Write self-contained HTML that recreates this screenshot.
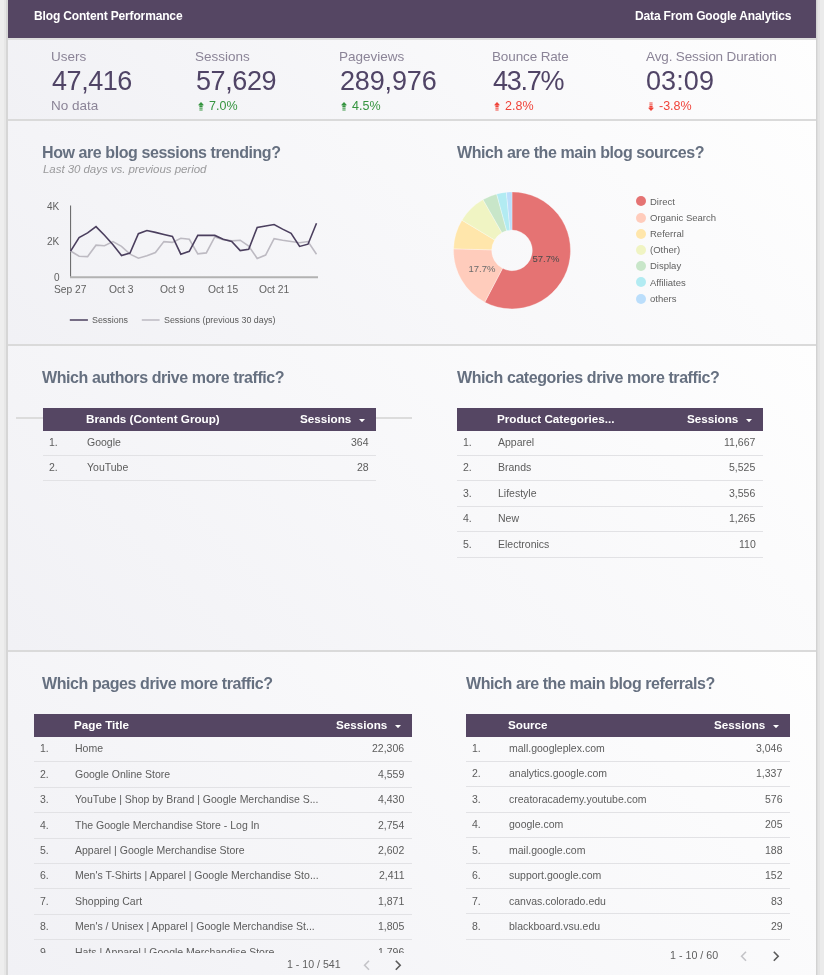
<!DOCTYPE html><html><head><meta charset="utf-8"><style>
html,body{margin:0;padding:0;}
body{width:824px;height:975px;overflow:hidden;background:#eeeeee;position:relative;font-family:"Liberation Sans",sans-serif;}
.t{position:absolute;line-height:1;white-space:nowrap;will-change:transform;}
.r{position:absolute;}
svg{position:absolute;}
</style></head><body>
<div class="r" style="left:4px;top:0px;width:2px;height:975px;background:#e7e7e7;"></div>
<div class="r" style="left:6px;top:0px;width:2px;height:975px;background:#d6d6d6;"></div>
<div class="r" style="left:818px;top:0px;width:6px;height:975px;background:#ebebeb;"></div>
<div class="r" style="left:816px;top:0px;width:1px;height:975px;background:#d2d2d2;"></div>
<div class="r" style="left:817px;top:0px;width:1px;height:975px;background:#dddddd;"></div>
<div class="r" style="left:818px;top:0px;width:2px;height:975px;background:#e5e5e5;"></div>
<div class="r" style="left:8px;top:38px;width:808px;height:2px;background:#dedede;"></div>
<div class="r" style="left:8px;top:40px;width:808px;height:79px;background:linear-gradient(45deg,#f1f1f5 0%,#fefefe 100%);"></div>
<div class="r" style="left:8px;top:119px;width:808px;height:2px;background:#dadada;"></div>
<div class="r" style="left:8px;top:121px;width:808px;height:223px;background:linear-gradient(45deg,#f1f1f5 0%,#fefefe 100%);"></div>
<div class="r" style="left:8px;top:344px;width:808px;height:2px;background:#dadada;"></div>
<div class="r" style="left:8px;top:346px;width:808px;height:304px;background:linear-gradient(45deg,#f1f1f5 0%,#fefefe 100%);"></div>
<div class="r" style="left:8px;top:650px;width:808px;height:2px;background:#dadada;"></div>
<div class="r" style="left:8px;top:652px;width:808px;height:323px;background:linear-gradient(45deg,#f1f1f5 0%,#fefefe 100%);"></div>
<div class="r" style="left:8px;top:0px;width:808px;height:38px;background:#554663;"></div>
<div class="t" style="top:9.74px;font-size:12px;color:#ffffff;font-weight:700;letter-spacing:-0.15px;left:33.50px;">Blog Content Performance</div>
<div class="t" style="top:9.74px;font-size:12px;color:#ffffff;font-weight:700;letter-spacing:-0.15px;right:33.00px;">Data From Google Analytics</div>
<div class="t" style="top:49.87px;font-size:13.5px;color:#8b8497;left:51.00px;">Users</div>
<div class="t" style="top:68.04px;font-size:27px;color:#504466;letter-spacing:-0.45px;left:51.60px;">47,416</div>
<div class="t" style="top:98.77px;font-size:13.5px;color:#8b8497;left:51.00px;">No data</div>
<div class="t" style="top:49.87px;font-size:13.5px;color:#8b8497;left:195.40px;">Sessions</div>
<div class="t" style="top:68.04px;font-size:27px;color:#504466;letter-spacing:-0.4px;left:196.00px;">57,629</div>
<svg style="left:197.5px;top:102.2px" width="6" height="9" viewBox="0 0 6 9"><path d="M3 0 L6 3.3 L0 3.3 Z" fill="#35943f"/><rect x="1.4" y="3.3" width="3.2" height="1.7" fill="#35943f"/><rect x="1.4" y="5.5" width="3.2" height="1.3" fill="#35943f" opacity="0.85"/><rect x="1.4" y="7.3" width="3.2" height="1.4" fill="#35943f" opacity="0.7"/></svg>
<div class="t" style="top:99.82px;font-size:12.5px;color:#35943f;left:208.50px;">7.0%</div>
<div class="t" style="top:49.87px;font-size:13.5px;color:#8b8497;left:339.10px;">Pageviews</div>
<div class="t" style="top:68.04px;font-size:27px;color:#504466;letter-spacing:-0.15px;left:339.70px;">289,976</div>
<svg style="left:341.2px;top:102.2px" width="6" height="9" viewBox="0 0 6 9"><path d="M3 0 L6 3.3 L0 3.3 Z" fill="#35943f"/><rect x="1.4" y="3.3" width="3.2" height="1.7" fill="#35943f"/><rect x="1.4" y="5.5" width="3.2" height="1.3" fill="#35943f" opacity="0.85"/><rect x="1.4" y="7.3" width="3.2" height="1.4" fill="#35943f" opacity="0.7"/></svg>
<div class="t" style="top:99.82px;font-size:12.5px;color:#35943f;left:352.20px;">4.5%</div>
<div class="t" style="top:49.87px;font-size:13.5px;color:#8b8497;letter-spacing:-0.13px;left:492.20px;">Bounce Rate</div>
<div class="t" style="top:68.04px;font-size:27px;color:#504466;letter-spacing:-1.25px;left:492.80px;">43.7%</div>
<svg style="left:494.3px;top:102.2px" width="6" height="9" viewBox="0 0 6 9"><path d="M3 0 L6 3.3 L0 3.3 Z" fill="#f0443a"/><rect x="1.4" y="3.3" width="3.2" height="1.7" fill="#f0443a"/><rect x="1.4" y="5.5" width="3.2" height="1.3" fill="#f0443a" opacity="0.85"/><rect x="1.4" y="7.3" width="3.2" height="1.4" fill="#f0443a" opacity="0.7"/></svg>
<div class="t" style="top:99.82px;font-size:12.5px;color:#f0443a;left:505.30px;">2.8%</div>
<div class="t" style="top:49.87px;font-size:13.5px;color:#8b8497;letter-spacing:-0.13px;left:645.60px;">Avg. Session Duration</div>
<div class="t" style="top:68.04px;font-size:27px;color:#504466;letter-spacing:0.1px;left:646.20px;">03:09</div>
<svg style="left:647.7px;top:101.6px" width="6" height="9" viewBox="0 0 6 9"><rect x="1.4" y="0.3" width="3.2" height="1.4" fill="#f0443a" opacity="0.7"/><rect x="1.4" y="2.2" width="3.2" height="1.3" fill="#f0443a" opacity="0.85"/><rect x="1.4" y="4" width="3.2" height="1.7" fill="#f0443a"/><path d="M3 9 L6 5.7 L0 5.7 Z" fill="#f0443a"/></svg>
<div class="t" style="top:99.82px;font-size:12.5px;color:#f0443a;left:658.70px;">-3.8%</div>
<div class="t" style="top:145.16px;font-size:16px;color:#667080;font-weight:700;letter-spacing:-0.42px;left:42.20px;">How are blog sessions trending?</div>
<div class="t" style="top:163.87px;font-size:11.5px;color:#9a9a9c;font-style:italic;letter-spacing:-0.05px;left:42.60px;">Last 30 days vs. previous period</div>
<div class="t" style="top:145.16px;font-size:16px;color:#667080;font-weight:700;letter-spacing:-0.42px;left:456.50px;">Which are the main blog sources?</div>
<svg style="left:0;top:0" width="824" height="975" viewBox="0 0 824 975">
<line x1="70.6" y1="205.5" x2="70.6" y2="277" stroke="#606060" stroke-width="1"/>
<line x1="70" y1="277.3" x2="318" y2="277.3" stroke="#b2b2b2" stroke-width="2"/>
<polyline points="70.6,251.0 79.1,256.3 87.6,256.6 96.0,245.2 104.5,245.8 113.0,241.6 121.5,246.3 130.0,254.2 138.4,258.2 146.9,255.8 155.4,252.6 163.9,241.6 172.4,242.4 180.8,238.2 189.3,239.3 197.8,253.8 206.3,252.9 214.8,236.9 223.2,239.6 231.7,240.9 240.2,240.2 248.7,246.0 257.2,258.4 265.6,255.1 274.1,238.7 282.6,240.2 291.1,241.5 299.6,242.7 308.0,241.5 316.5,254.2" fill="none" stroke="#bdbac2" stroke-width="1.6" stroke-linejoin="miter"/>
<polyline points="70.6,251.2 79.1,237.6 87.6,232.9 96.0,226.6 104.5,235.3 113.0,244.7 121.5,255.5 130.0,253.1 138.4,233.7 146.9,230.5 155.4,232.4 163.9,234.5 172.4,236.5 180.8,254.2 189.3,251.3 197.8,235.4 206.3,235.4 214.8,235.4 223.2,239.3 231.7,241.5 240.2,250.6 248.7,249.3 257.2,227.4 265.6,226.0 274.1,224.5 282.6,229.1 291.1,233.3 299.6,246.4 308.0,244.2 316.5,223.2" fill="none" stroke="#4b3f5e" stroke-width="1.6" stroke-linejoin="miter"/>
<line x1="69.8" y1="320" x2="87.9" y2="320" stroke="#4b3f5e" stroke-width="1.5"/>
<line x1="141.8" y1="320" x2="159.6" y2="320" stroke="#bdbac2" stroke-width="1.5"/>
</svg>
<div class="t" style="top:201.84px;font-size:10px;color:#616161;right:764.70px;">4K</div>
<div class="t" style="top:236.84px;font-size:10px;color:#616161;right:764.70px;">2K</div>
<div class="t" style="top:272.64px;font-size:10px;color:#616161;right:764.50px;">0</div>
<div class="t" style="top:285.22px;font-size:10.25px;color:#616161;left:54.40px;">Sep 27</div>
<div class="t" style="top:285.22px;font-size:10.25px;color:#616161;left:109.30px;">Oct 3</div>
<div class="t" style="top:285.22px;font-size:10.25px;color:#616161;left:160.00px;">Oct 9</div>
<div class="t" style="top:285.22px;font-size:10.25px;color:#616161;left:208.00px;">Oct 15</div>
<div class="t" style="top:285.22px;font-size:10.25px;color:#616161;left:259.00px;">Oct 21</div>
<div class="t" style="top:315.77px;font-size:8.9px;color:#5a5a5a;left:91.50px;">Sessions</div>
<div class="t" style="top:315.77px;font-size:8.9px;color:#5a5a5a;left:163.80px;">Sessions (previous 30 days)</div>
<svg style="left:0;top:0" width="824" height="975" viewBox="0 0 824 975"><path d="M512.00 191.90 A58.5 58.5 0 1 1 484.81 302.20 L502.56 268.37 A20.3 20.3 0 1 0 512.00 230.10 Z" fill="#e57373" stroke="#ffffff" stroke-width="0.3"/><path d="M484.81 302.20 A58.5 58.5 0 0 1 453.52 248.87 L491.71 249.87 A20.3 20.3 0 0 0 502.56 268.37 Z" fill="#ffccbc" stroke="#ffffff" stroke-width="0.3"/><path d="M453.52 248.87 A58.5 58.5 0 0 1 461.91 220.18 L494.62 239.91 A20.3 20.3 0 0 0 491.71 249.87 Z" fill="#ffe6ab" stroke="#ffffff" stroke-width="0.3"/><path d="M461.91 220.18 A58.5 58.5 0 0 1 483.02 199.59 L501.94 232.77 A20.3 20.3 0 0 0 494.62 239.91 Z" fill="#f0f4c3" stroke="#ffffff" stroke-width="0.3"/><path d="M483.02 199.59 A58.5 58.5 0 0 1 496.66 193.95 L506.68 230.81 A20.3 20.3 0 0 0 501.94 232.77 Z" fill="#c8e6c9" stroke="#ffffff" stroke-width="0.3"/><path d="M496.66 193.95 A58.5 58.5 0 0 1 506.39 192.17 L510.05 230.19 A20.3 20.3 0 0 0 506.68 230.81 Z" fill="#b2ebf2" stroke="#ffffff" stroke-width="0.3"/><path d="M506.39 192.17 A58.5 58.5 0 0 1 512.00 191.90 L512.00 230.10 A20.3 20.3 0 0 0 510.05 230.19 Z" fill="#bbdefb" stroke="#ffffff" stroke-width="0.3"/></svg>
<div class="t" style="top:253.66px;font-size:9.5px;color:#4a4a4a;left:546.20px;transform:translateX(-50%);">57.7%</div>
<div class="t" style="top:263.96px;font-size:9.5px;color:#6b6b6b;left:482.40px;transform:translateX(-50%);">17.7%</div>
<div class="r" style="left:636px;top:196.3px;width:10px;height:10px;border-radius:50%;background:#e57373"></div>
<div class="t" style="top:196.56px;font-size:9.5px;color:#616161;left:649.60px;">Direct</div>
<div class="r" style="left:636px;top:212.5px;width:10px;height:10px;border-radius:50%;background:#ffccbc"></div>
<div class="t" style="top:212.76px;font-size:9.5px;color:#616161;left:649.60px;">Organic Search</div>
<div class="r" style="left:636px;top:228.7px;width:10px;height:10px;border-radius:50%;background:#ffe6ab"></div>
<div class="t" style="top:228.96px;font-size:9.5px;color:#616161;left:649.60px;">Referral</div>
<div class="r" style="left:636px;top:244.9px;width:10px;height:10px;border-radius:50%;background:#f0f4c3"></div>
<div class="t" style="top:245.16px;font-size:9.5px;color:#616161;left:649.60px;">(Other)</div>
<div class="r" style="left:636px;top:261.1px;width:10px;height:10px;border-radius:50%;background:#c8e6c9"></div>
<div class="t" style="top:261.36px;font-size:9.5px;color:#616161;left:649.60px;">Display</div>
<div class="r" style="left:636px;top:277.3px;width:10px;height:10px;border-radius:50%;background:#b2ebf2"></div>
<div class="t" style="top:277.56px;font-size:9.5px;color:#616161;left:649.60px;">Affiliates</div>
<div class="r" style="left:636px;top:293.5px;width:10px;height:10px;border-radius:50%;background:#bbdefb"></div>
<div class="t" style="top:293.76px;font-size:9.5px;color:#616161;left:649.60px;">others</div>
<div class="t" style="top:370.16px;font-size:16px;color:#667080;font-weight:700;letter-spacing:-0.42px;left:42.20px;">Which authors drive more traffic?</div>
<div class="t" style="top:370.16px;font-size:16px;color:#667080;font-weight:700;letter-spacing:-0.42px;left:456.50px;">Which categories drive more traffic?</div>
<div class="r" style="left:16px;top:417px;width:396px;height:2px;background:#dcdcdc;"></div>
<div class="r" style="left:43.3px;top:408px;width:332.6px;height:22.9px;background:#554663;"></div>
<div class="t" style="top:412.90px;font-size:11.7px;color:#ffffff;font-weight:700;left:86.30px;">Brands (Content Group)</div>
<div class="t" style="top:412.90px;font-size:11.7px;color:#ffffff;font-weight:700;right:472.70px;">Sessions</div>
<svg style="left:358.9px;top:418.8px" width="6" height="3.5" viewBox="0 0 6 3.5"><path d="M0 0 L6 0 L3 3.2 Z" fill="#ffffff"/></svg>
<div class="t" style="top:436.91px;font-size:10.5px;color:#5c5c5c;left:49.20px;">1.</div>
<div class="t" style="top:436.91px;font-size:10.5px;color:#5c5c5c;left:87.10px;">Google</div>
<div class="t" style="top:436.91px;font-size:10.5px;color:#5c5c5c;right:455.80px;">364</div>
<div class="r" style="left:43.3px;top:455px;width:332.6px;height:1px;background:#e2e2e5;"></div>
<div class="t" style="top:462.36px;font-size:10.5px;color:#5c5c5c;left:49.20px;">2.</div>
<div class="t" style="top:462.36px;font-size:10.5px;color:#5c5c5c;left:87.10px;">YouTube</div>
<div class="t" style="top:462.36px;font-size:10.5px;color:#5c5c5c;right:455.80px;">28</div>
<div class="r" style="left:43.3px;top:480px;width:332.6px;height:1px;background:#e2e2e5;"></div>
<div class="r" style="left:457px;top:408.3px;width:306px;height:22.5px;background:#554663;"></div>
<div class="t" style="top:413.20px;font-size:11.7px;color:#ffffff;font-weight:700;left:497.00px;">Product Categories...</div>
<div class="t" style="top:413.20px;font-size:11.7px;color:#ffffff;font-weight:700;right:85.60px;">Sessions</div>
<svg style="left:746.0px;top:419.1px" width="6" height="3.5" viewBox="0 0 6 3.5"><path d="M0 0 L6 0 L3 3.2 Z" fill="#ffffff"/></svg>
<div class="t" style="top:436.81px;font-size:10.5px;color:#5c5c5c;left:462.90px;">1.</div>
<div class="t" style="top:436.81px;font-size:10.5px;color:#5c5c5c;left:497.90px;">Apparel</div>
<div class="t" style="top:436.81px;font-size:10.5px;color:#5c5c5c;right:68.70px;">11,667</div>
<div class="r" style="left:457px;top:455px;width:306px;height:1px;background:#e2e2e5;"></div>
<div class="t" style="top:462.26px;font-size:10.5px;color:#5c5c5c;left:462.90px;">2.</div>
<div class="t" style="top:462.26px;font-size:10.5px;color:#5c5c5c;left:497.90px;">Brands</div>
<div class="t" style="top:462.26px;font-size:10.5px;color:#5c5c5c;right:68.70px;">5,525</div>
<div class="r" style="left:457px;top:480px;width:306px;height:1px;background:#e2e2e5;"></div>
<div class="t" style="top:487.71px;font-size:10.5px;color:#5c5c5c;left:462.90px;">3.</div>
<div class="t" style="top:487.71px;font-size:10.5px;color:#5c5c5c;left:497.90px;">Lifestyle</div>
<div class="t" style="top:487.71px;font-size:10.5px;color:#5c5c5c;right:68.70px;">3,556</div>
<div class="r" style="left:457px;top:506px;width:306px;height:1px;background:#e2e2e5;"></div>
<div class="t" style="top:513.16px;font-size:10.5px;color:#5c5c5c;left:462.90px;">4.</div>
<div class="t" style="top:513.16px;font-size:10.5px;color:#5c5c5c;left:497.90px;">New</div>
<div class="t" style="top:513.16px;font-size:10.5px;color:#5c5c5c;right:68.70px;">1,265</div>
<div class="r" style="left:457px;top:531px;width:306px;height:1px;background:#e2e2e5;"></div>
<div class="t" style="top:538.61px;font-size:10.5px;color:#5c5c5c;left:462.90px;">5.</div>
<div class="t" style="top:538.61px;font-size:10.5px;color:#5c5c5c;left:497.90px;">Electronics</div>
<div class="t" style="top:538.61px;font-size:10.5px;color:#5c5c5c;right:68.70px;">110</div>
<div class="r" style="left:457px;top:557px;width:306px;height:1px;background:#e2e2e5;"></div>
<div class="t" style="top:675.66px;font-size:16px;color:#667080;font-weight:700;letter-spacing:-0.42px;left:42.20px;">Which pages drive more traffic?</div>
<div class="t" style="top:675.66px;font-size:16px;color:#667080;font-weight:700;letter-spacing:-0.42px;left:465.60px;">Which are the main blog referrals?</div>
<div class="r" style="left:34px;top:714.1px;width:377.8px;height:23.1px;background:#554663;"></div>
<div class="t" style="top:719.00px;font-size:11.7px;color:#ffffff;font-weight:700;left:73.90px;">Page Title</div>
<div class="t" style="top:719.00px;font-size:11.7px;color:#ffffff;font-weight:700;right:436.80px;">Sessions</div>
<svg style="left:394.8px;top:724.9px" width="6" height="3.5" viewBox="0 0 6 3.5"><path d="M0 0 L6 0 L3 3.2 Z" fill="#ffffff"/></svg>
<div style="position:absolute;left:0;top:0;width:824px;height:953px;overflow:hidden"><div class="t" style="top:743.21px;font-size:10.5px;color:#5c5c5c;left:39.90px;">1.</div>
<div class="t" style="top:743.21px;font-size:10.5px;color:#5c5c5c;left:74.80px;">Home</div>
<div class="t" style="top:743.21px;font-size:10.5px;color:#5c5c5c;right:419.90px;">22,306</div>
<div class="r" style="left:34px;top:761px;width:377.8px;height:1px;background:#e2e2e5;"></div>
<div class="t" style="top:768.66px;font-size:10.5px;color:#5c5c5c;left:39.90px;">2.</div>
<div class="t" style="top:768.66px;font-size:10.5px;color:#5c5c5c;left:74.80px;">Google Online Store</div>
<div class="t" style="top:768.66px;font-size:10.5px;color:#5c5c5c;right:419.90px;">4,559</div>
<div class="r" style="left:34px;top:787px;width:377.8px;height:1px;background:#e2e2e5;"></div>
<div class="t" style="top:794.11px;font-size:10.5px;color:#5c5c5c;left:39.90px;">3.</div>
<div class="t" style="top:794.11px;font-size:10.5px;color:#5c5c5c;left:74.80px;">YouTube | Shop by Brand | Google Merchandise S...</div>
<div class="t" style="top:794.11px;font-size:10.5px;color:#5c5c5c;right:419.90px;">4,430</div>
<div class="r" style="left:34px;top:812px;width:377.8px;height:1px;background:#e2e2e5;"></div>
<div class="t" style="top:819.56px;font-size:10.5px;color:#5c5c5c;left:39.90px;">4.</div>
<div class="t" style="top:819.56px;font-size:10.5px;color:#5c5c5c;left:74.80px;">The Google Merchandise Store - Log In</div>
<div class="t" style="top:819.56px;font-size:10.5px;color:#5c5c5c;right:419.90px;">2,754</div>
<div class="r" style="left:34px;top:838px;width:377.8px;height:1px;background:#e2e2e5;"></div>
<div class="t" style="top:845.01px;font-size:10.5px;color:#5c5c5c;left:39.90px;">5.</div>
<div class="t" style="top:845.01px;font-size:10.5px;color:#5c5c5c;left:74.80px;">Apparel | Google Merchandise Store</div>
<div class="t" style="top:845.01px;font-size:10.5px;color:#5c5c5c;right:419.90px;">2,602</div>
<div class="r" style="left:34px;top:863px;width:377.8px;height:1px;background:#e2e2e5;"></div>
<div class="t" style="top:870.46px;font-size:10.5px;color:#5c5c5c;left:39.90px;">6.</div>
<div class="t" style="top:870.46px;font-size:10.5px;color:#5c5c5c;left:74.80px;">Men's T-Shirts | Apparel | Google Merchandise Sto...</div>
<div class="t" style="top:870.46px;font-size:10.5px;color:#5c5c5c;right:419.90px;">2,411</div>
<div class="r" style="left:34px;top:888px;width:377.8px;height:1px;background:#e2e2e5;"></div>
<div class="t" style="top:895.91px;font-size:10.5px;color:#5c5c5c;left:39.90px;">7.</div>
<div class="t" style="top:895.91px;font-size:10.5px;color:#5c5c5c;left:74.80px;">Shopping Cart</div>
<div class="t" style="top:895.91px;font-size:10.5px;color:#5c5c5c;right:419.90px;">1,871</div>
<div class="r" style="left:34px;top:914px;width:377.8px;height:1px;background:#e2e2e5;"></div>
<div class="t" style="top:921.36px;font-size:10.5px;color:#5c5c5c;left:39.90px;">8.</div>
<div class="t" style="top:921.36px;font-size:10.5px;color:#5c5c5c;left:74.80px;">Men's / Unisex | Apparel | Google Merchandise St...</div>
<div class="t" style="top:921.36px;font-size:10.5px;color:#5c5c5c;right:419.90px;">1,805</div>
<div class="r" style="left:34px;top:939px;width:377.8px;height:1px;background:#e2e2e5;"></div>
<div class="t" style="top:946.81px;font-size:10.5px;color:#5c5c5c;left:39.90px;">9.</div>
<div class="t" style="top:946.81px;font-size:10.5px;color:#5c5c5c;left:74.80px;">Hats | Apparel | Google Merchandise Store</div>
<div class="t" style="top:946.81px;font-size:10.5px;color:#5c5c5c;right:419.90px;">1,796</div>
<div class="r" style="left:34px;top:965px;width:377.8px;height:1px;background:#e2e2e5;"></div>
</div>
<div class="r" style="left:466px;top:714px;width:324px;height:22.8px;background:#554663;"></div>
<div class="t" style="top:718.90px;font-size:11.7px;color:#ffffff;font-weight:700;left:508.10px;">Source</div>
<div class="t" style="top:718.90px;font-size:11.7px;color:#ffffff;font-weight:700;right:58.60px;">Sessions</div>
<svg style="left:773.0px;top:724.8px" width="6" height="3.5" viewBox="0 0 6 3.5"><path d="M0 0 L6 0 L3 3.2 Z" fill="#ffffff"/></svg>
<div class="t" style="top:742.81px;font-size:10.5px;color:#5c5c5c;left:471.90px;">1.</div>
<div class="t" style="top:742.81px;font-size:10.5px;color:#5c5c5c;left:509.00px;">mall.googleplex.com</div>
<div class="t" style="top:742.81px;font-size:10.5px;color:#5c5c5c;right:41.70px;">3,046</div>
<div class="r" style="left:466px;top:761px;width:324px;height:1px;background:#e2e2e5;"></div>
<div class="t" style="top:768.26px;font-size:10.5px;color:#5c5c5c;left:471.90px;">2.</div>
<div class="t" style="top:768.26px;font-size:10.5px;color:#5c5c5c;left:509.00px;">analytics.google.com</div>
<div class="t" style="top:768.26px;font-size:10.5px;color:#5c5c5c;right:41.70px;">1,337</div>
<div class="r" style="left:466px;top:786px;width:324px;height:1px;background:#e2e2e5;"></div>
<div class="t" style="top:793.71px;font-size:10.5px;color:#5c5c5c;left:471.90px;">3.</div>
<div class="t" style="top:793.71px;font-size:10.5px;color:#5c5c5c;left:509.00px;">creatoracademy.youtube.com</div>
<div class="t" style="top:793.71px;font-size:10.5px;color:#5c5c5c;right:41.70px;">576</div>
<div class="r" style="left:466px;top:812px;width:324px;height:1px;background:#e2e2e5;"></div>
<div class="t" style="top:819.16px;font-size:10.5px;color:#5c5c5c;left:471.90px;">4.</div>
<div class="t" style="top:819.16px;font-size:10.5px;color:#5c5c5c;left:509.00px;">google.com</div>
<div class="t" style="top:819.16px;font-size:10.5px;color:#5c5c5c;right:41.70px;">205</div>
<div class="r" style="left:466px;top:837px;width:324px;height:1px;background:#e2e2e5;"></div>
<div class="t" style="top:844.61px;font-size:10.5px;color:#5c5c5c;left:471.90px;">5.</div>
<div class="t" style="top:844.61px;font-size:10.5px;color:#5c5c5c;left:509.00px;">mail.google.com</div>
<div class="t" style="top:844.61px;font-size:10.5px;color:#5c5c5c;right:41.70px;">188</div>
<div class="r" style="left:466px;top:863px;width:324px;height:1px;background:#e2e2e5;"></div>
<div class="t" style="top:870.06px;font-size:10.5px;color:#5c5c5c;left:471.90px;">6.</div>
<div class="t" style="top:870.06px;font-size:10.5px;color:#5c5c5c;left:509.00px;">support.google.com</div>
<div class="t" style="top:870.06px;font-size:10.5px;color:#5c5c5c;right:41.70px;">152</div>
<div class="r" style="left:466px;top:888px;width:324px;height:1px;background:#e2e2e5;"></div>
<div class="t" style="top:895.51px;font-size:10.5px;color:#5c5c5c;left:471.90px;">7.</div>
<div class="t" style="top:895.51px;font-size:10.5px;color:#5c5c5c;left:509.00px;">canvas.colorado.edu</div>
<div class="t" style="top:895.51px;font-size:10.5px;color:#5c5c5c;right:41.70px;">83</div>
<div class="r" style="left:466px;top:913px;width:324px;height:1px;background:#e2e2e5;"></div>
<div class="t" style="top:920.96px;font-size:10.5px;color:#5c5c5c;left:471.90px;">8.</div>
<div class="t" style="top:920.96px;font-size:10.5px;color:#5c5c5c;left:509.00px;">blackboard.vsu.edu</div>
<div class="t" style="top:920.96px;font-size:10.5px;color:#5c5c5c;right:41.70px;">29</div>
<div class="r" style="left:466px;top:939px;width:324px;height:1px;background:#e2e2e5;"></div>
<div class="t" style="top:959.23px;font-size:10.6px;color:#5f5f5f;left:286.70px;">1 - 10 / 541</div>
<div class="t" style="top:950.04px;font-size:10.7px;color:#5f5f5f;left:670.40px;">1 - 10 / 60</div>
<svg style="left:362.5px;top:959.8px" width="7" height="11" viewBox="0 0 7 11"><path d="M6 0.8 L1.6 5.3 L6 9.8" fill="none" stroke="#c4c4c8" stroke-width="1.6"/></svg>
<svg style="left:395.0px;top:959.8px" width="7" height="11" viewBox="0 0 7 11"><path d="M0.8 0.8 L5.2 5.3 L0.8 9.8" fill="none" stroke="#5a5a5a" stroke-width="1.6"/></svg>
<svg style="left:740.4px;top:951.0px" width="7" height="11" viewBox="0 0 7 11"><path d="M6 0.8 L1.6 5.3 L6 9.8" fill="none" stroke="#c4c4c8" stroke-width="1.6"/></svg>
<svg style="left:772.8px;top:951.0px" width="7" height="11" viewBox="0 0 7 11"><path d="M0.8 0.8 L5.2 5.3 L0.8 9.8" fill="none" stroke="#5a5a5a" stroke-width="1.6"/></svg>
</body></html>
